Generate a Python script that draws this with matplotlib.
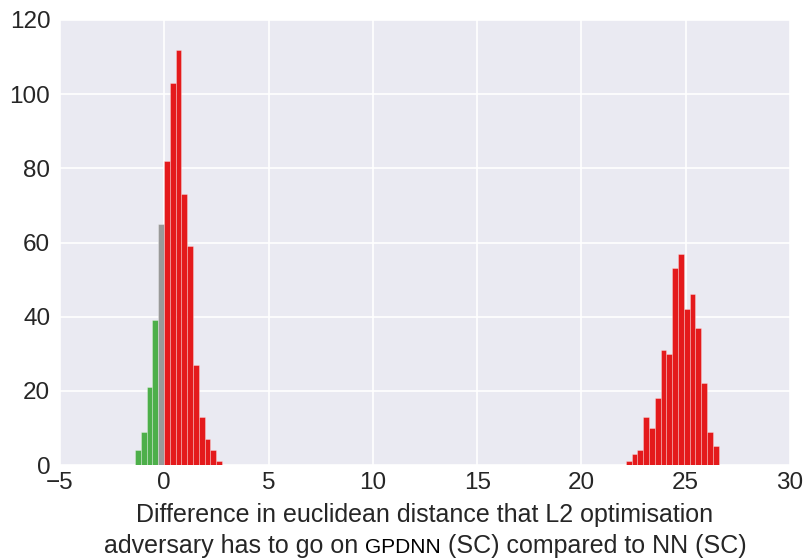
import matplotlib
matplotlib.use("Agg")
import matplotlib.pyplot as plt
import numpy as np

# ---- data ----
bin_width = 0.278
left_start = -1.40
left_counts = [4, 9, 21, 39, 65, 82, 103, 112, 73, 59, 27, 13, 7, 4, 1]
left_colors = ["green"] * 4 + ["gray"] + ["red"] * 10
right_start = 22.13
right_counts = [1, 3, 4, 13, 10, 18, 31, 30, 53, 57, 42, 46, 37, 22, 9, 5]
right_colors = ["red"] * 16

xticks = [-5, 0, 5, 10, 15, 20, 25, 30]
yticks = [0, 20, 40, 60, 80, 100, 120]

palette = {"green": "#4daf4a", "gray": "#999999", "red": "#e41a1c"}

plt.rcParams["font.family"] = ["Liberation Sans", "DejaVu Sans"]

fig = plt.figure(figsize=(8.07, 5.6), dpi=100)
ax = fig.add_axes([60 / 807, 1 - 465 / 560, 730 / 807, 445 / 560])
ax.set_facecolor("#EAEAF2")
ax.set_axisbelow(True)
ax.grid(True, color="white", linewidth=1.2)
for s in ax.spines.values():
    s.set_visible(False)

for start, counts, cols in [(left_start, left_counts, left_colors),
                            (right_start, right_counts, right_colors)]:
    edges = start + bin_width * np.arange(len(counts))
    ax.bar(edges, counts, width=bin_width, align="edge",
           color=[palette[c] for c in cols],
           edgecolor=(1, 1, 1, 0.35), linewidth=0.6)

ax.set_xlim(-5, 30)
ax.set_ylim(0, 120)
ax.set_xticks(xticks)
ax.set_yticks(yticks)
ax.set_xticklabels([str(t).replace("-", "\u2212") for t in xticks])
ax.tick_params(length=0, labelsize=17.5, colors="#262626")
ax.tick_params(axis="y", pad=7)
ax.tick_params(axis="x", pad=5)

# x label (two lines, "GPDNN" in smaller font)
cx = 425 / 807
fig.text(cx, 1 - 522 / 560, "Difference in euclidean distance that L2 optimisation",
         ha="center", va="baseline", fontsize=18, color="#262626")
parts = [("adversary has to go on ", 18, "#262626"), ("GPDNN", 15, "#000000"),
         (" (SC) compared to NN (SC)", 18, "#262626")]
renderer = fig.canvas.get_renderer()
texts = []
y2 = 1 - 553 / 560
for s, fs, c in parts:
    t = fig.text(0, y2, s, ha="left", va="baseline", fontsize=fs, color=c)
    texts.append(t)
widths = [t.get_window_extent(renderer).width for t in texts]
total = sum(widths)
x0 = cx * 807 - total / 2
for t, w in zip(texts, widths):
    t.set_x(x0 / 807)
    x0 += w

fig.savefig("out.png", dpi=100)
